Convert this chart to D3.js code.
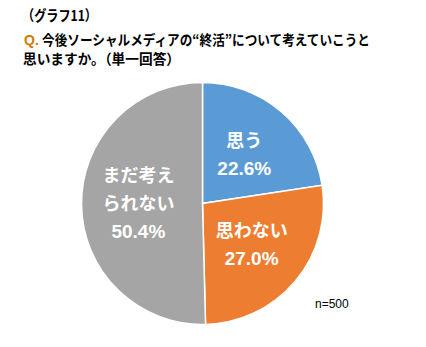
<!DOCTYPE html>
<html><head><meta charset="utf-8">
<script src="https://cdn.jsdelivr.net/npm/d3@7"></script>
<style>
html,body{margin:0;padding:0;background:#fff;}
svg{display:block;}
</style></head>
<body>
<script>
const categories = ["思う", "思わない", "まだ考えられない"];
const labelLines = [["思う"], ["思わない"], ["まだ考え", "られない"]];
const values = [22.6, 27.0, 50.4];
const colors = ["#5B9BD5", "#ED7D31", "#A5A5A5"];
const titleLines = ["（グラフ11）", "Q.今後ソーシャルメディアの“終活”について考えていこうと", "思いますか。（単一回答）"];
const noteText = "n=500";

const W = 426, H = 347;
const svg = d3.select("body").append("svg").attr("width", W).attr("height", H);
const font = "'Liberation Sans', 'Noto Sans CJK JP', sans-serif";

// Title
const t = svg.append("g").attr("font-family", "'Noto Sans CJK JP', sans-serif").attr("font-weight", "bold").attr("fill", "#000");
t.append("text").attr("x", 22).attr("y", 21).attr("font-size", 14.5).text(titleLines[0])
  .attr("textLength", 75).attr("lengthAdjust", "spacingAndGlyphs");
t.append("text").attr("x", 24).attr("y", 44.5).attr("font-size", 14).attr("fill", "#D07A00")
  .attr("font-family", "'Liberation Sans', sans-serif").text(titleLines[1].slice(0, 2));
t.append("text").attr("x", 42).attr("y", 44.5).attr("font-size", 14.2)
  .attr("textLength", 328).attr("lengthAdjust", "spacingAndGlyphs").text(titleLines[1].slice(2));
t.append("text").attr("x", 23).attr("y", 63.5).attr("font-size", 14.2).text(titleLines[2])
  .attr("textLength", 157).attr("lengthAdjust", "spacingAndGlyphs");

// Pie
const cx = 202.5, cy = 203.5, r = 121;
const pie = d3.pie().sort(null).value(d => d)(values);
const arc = d3.arc().innerRadius(0).outerRadius(r);
const g = svg.append("g").attr("transform", `translate(${cx},${cy})`);
g.selectAll("path").data(pie).join("path")
  .attr("d", arc)
  .attr("fill", (d, i) => colors[i])
  .attr("stroke", "#fff").attr("stroke-width", 1.5);

// Labels
const labelArc = d3.arc().innerRadius(r * 0.53).outerRadius(r * 0.53);
const lineH = 28;
pie.forEach((d, i) => {
  const [x, y] = labelArc.centroid(d);
  const lines = labelLines[i].concat([values[i].toFixed(1) + "%"]);
  const y0 = y - (lines.length - 1) * lineH / 2;
  const txt = g.append("text").attr("text-anchor", "middle").attr("font-family", font)
    .attr("font-weight", "bold").attr("font-size", 18).attr("fill", "#fff");
  lines.forEach((ln, k) => {
    txt.append("tspan").attr("x", x).attr("y", y0 + k * lineH + 6).text(ln)
      .attr("font-size", k === lines.length - 1 ? 19 : 18);
  });
});

// note
svg.append("text").attr("x", 315).attr("y", 308).attr("font-family", "'Liberation Sans', sans-serif")
  .attr("font-size", 12).attr("fill", "#000").text(noteText);
</script>
</body></html>
